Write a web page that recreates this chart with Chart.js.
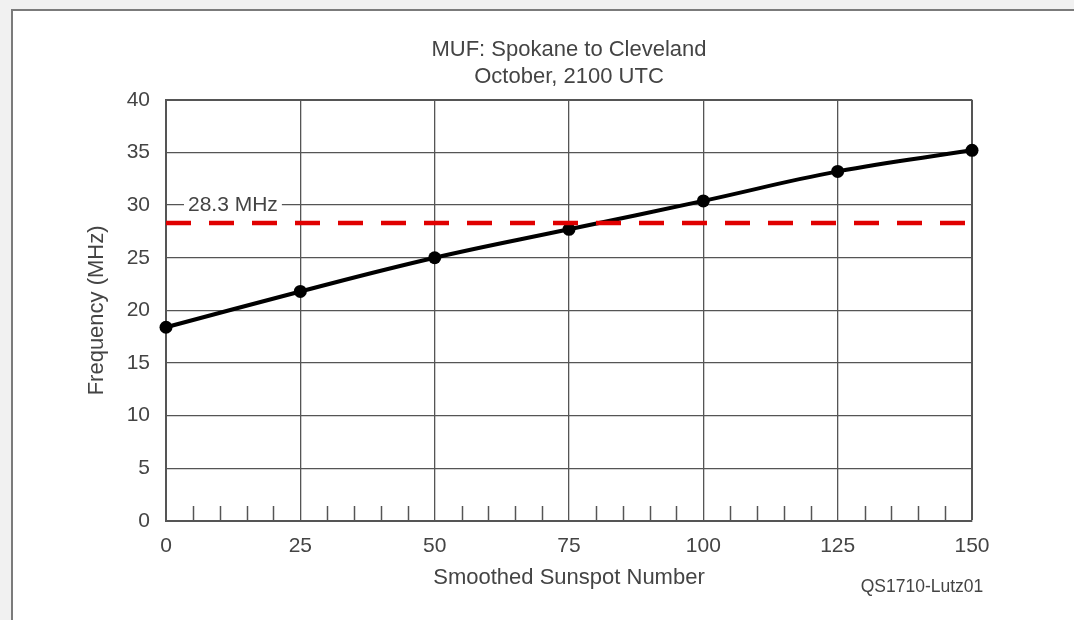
<!DOCTYPE html>
<html>
<head>
<meta charset="utf-8">
<title>MUF: Spokane to Cleveland</title>
<script src="https://cdn.jsdelivr.net/npm/chart.js@4"></script>
<style>
  html, body { margin: 0; padding: 0; background: #f1f1f1; overflow: hidden; }
  #frame {
    position: absolute; left: 11px; top: 9px; right: 0; bottom: 0;
    background: #fff; border-left: 2px solid #7b7b7b; border-top: 2px solid #7b7b7b;
  }
  #mufChart { position: absolute; left: 0; top: 0; }
</style>
</head>
<body>
<div id="frame"></div>
<canvas id="mufChart" width="1074" height="620"></canvas>
<script>
/*
  MUF vs smoothed sunspot number, with the 10 m band edge marked.
*/
const sunspotNumbers = [0, 25, 50, 75, 100, 125, 150];
const mufValues = [18.4, 21.8, 25.0, 27.7, 30.4, 33.2, 35.2];
const bandEdgeMHz = 28.3;
const bandEdgeLabel = "28.3 MHz";
const titleLines = ["MUF: Spokane to Cleveland", "October, 2100 UTC"];
const footnote = "QS1710-Lutz01";

const FONT = "'Liberation Sans', Arial, sans-serif";
const TEXT = "#444";
const GRID = "#555";

// small ticks every 5 along the bottom edge, plus the band label and figure id
const extrasPlugin = {
  id: "extras",
  beforeDatasetsDraw(chart) {
    const { ctx, chartArea, scales } = chart;
    ctx.save();
    ctx.strokeStyle = GRID;
    ctx.lineWidth = 1.5;
    for (let v = 5; v < 150; v += 5) {
      if (v % 25 === 0) continue;
      const x = Math.round(scales.x.getPixelForValue(v)) + 0.5;
      ctx.beginPath();
      ctx.moveTo(x, chartArea.bottom);
      ctx.lineTo(x, chartArea.bottom - 15);
      ctx.stroke();
    }

    // label sits above the dashed line, knocking out the grid behind it
    const ly = scales.y.getPixelForValue(bandEdgeMHz) - 18;
    const lx = scales.x.getPixelForValue(0) + 22;
    ctx.font = "21px " + FONT;
    const w = ctx.measureText(bandEdgeLabel).width;
    ctx.fillStyle = "#fff";
    ctx.fillRect(lx - 4, ly - 10, w + 8, 20);
    ctx.fillStyle = TEXT;
    ctx.textBaseline = "middle";
    ctx.textAlign = "left";
    ctx.fillText(bandEdgeLabel, lx, ly);
    ctx.restore();
  },
  afterDraw(chart) {
    const { ctx, chartArea } = chart;
    ctx.save();
    ctx.font = "17.5px " + FONT;
    ctx.fillStyle = TEXT;
    ctx.textAlign = "center";
    ctx.textBaseline = "middle";
    ctx.fillText(footnote, chartArea.right - 50, 587);
    ctx.restore();
  },
};

new Chart(document.getElementById("mufChart"), {
  type: "line",
  data: {
    datasets: [
      {
        label: bandEdgeLabel,
        data: [
          { x: sunspotNumbers[0], y: bandEdgeMHz },
          { x: sunspotNumbers[sunspotNumbers.length - 1], y: bandEdgeMHz },
        ],
        borderColor: "#e00000",
        borderWidth: 4.5,
        borderDash: [25, 18],
        pointRadius: 0,
        order: 0,
      },
      {
        label: "MUF",
        data: sunspotNumbers.map((s, i) => ({ x: s, y: mufValues[i] })),
        borderColor: "#000",
        backgroundColor: "#000",
        borderWidth: 4,
        pointRadius: 6.5,
        pointBackgroundColor: "#000",
        pointBorderWidth: 0,
        tension: 0.4,
        clip: false,
        order: 1,
      },
    ],
  },
  options: {
    responsive: false,
    animation: false,
    devicePixelRatio: 1,
    layout: { padding: { left: 0, right: 102, top: 37, bottom: 0 } },
    plugins: {
      legend: { display: false },
      tooltip: { enabled: false },
      title: {
        display: true,
        fullSize: false,
        text: titleLines,
        color: TEXT,
        font: { family: FONT, size: 22, weight: "normal", lineHeight: 1.2 },
        padding: { top: 0, bottom: 10 },
      },
    },
    scales: {
      x: {
        type: "linear",
        min: 0,
        max: 150,
        afterFit: (scale) => { scale.height = 99; },
        ticks: { stepSize: 25, color: TEXT, padding: 13, font: { family: FONT, size: 21 }, maxRotation: 0 },
        grid: { color: GRID, lineWidth: (c) => (c.tick && c.tick.value === 150 ? 2 : 1.3), drawTicks: false },
        border: { color: GRID, width: 2 },
        title: {
          display: true,
          text: "Smoothed Sunspot Number",
          color: TEXT,
          font: { family: FONT, size: 22 },
          padding: { top: 0, bottom: 29 },
        },
      },
      y: {
        min: 0,
        max: 40,
        afterFit: (scale) => { scale.width = 166; },
        ticks: { stepSize: 5, color: TEXT, padding: 16, font: { family: FONT, size: 21 } },
        grid: { color: GRID, lineWidth: (c) => (c.tick && c.tick.value === 40 ? 2 : 1.3), drawTicks: false },
        border: { color: GRID, width: 2 },
        title: {
          display: true,
          text: "Frequency (MHz)",
          color: TEXT,
          font: { family: FONT, size: 22 },
          padding: { top: 84, bottom: 0 },
        },
      },
    },
  },
  plugins: [extrasPlugin],
});
</script>
</body>
</html>
